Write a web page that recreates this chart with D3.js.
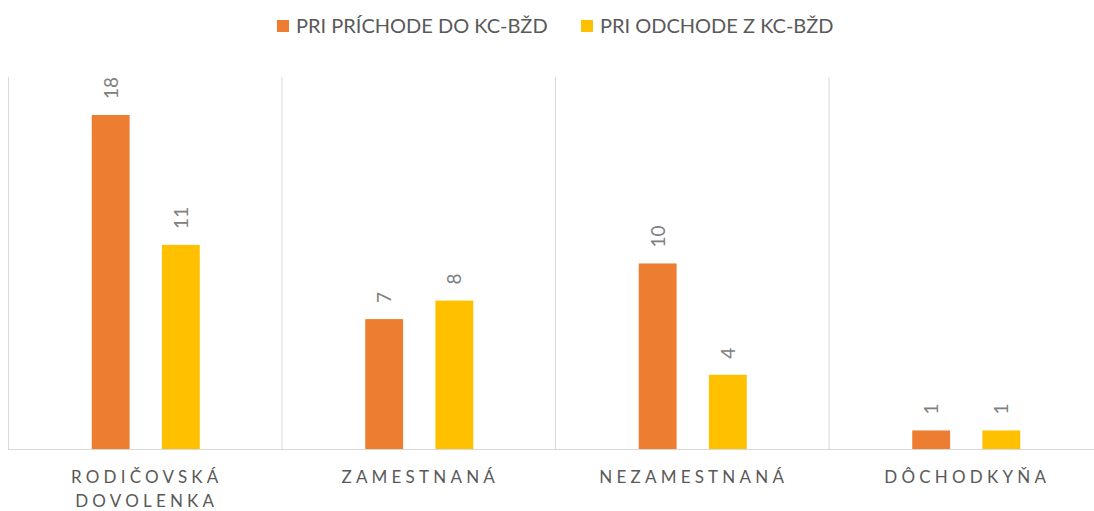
<!DOCTYPE html>
<html lang="sk">
<head>
    <meta charset="UTF-8">
    <title>Status klientok</title>
    <script src="https://d3js.org/d3.v7.min.js"></script>
    <style>
        body {
            margin: 0;
            background: #ffffff;
            font-family: Lato, "Open Sans", sans-serif;
            overflow: hidden;
        }
        .grid line { stroke: #d9d9d9; stroke-width: 1; }
        .cat-label { fill: #595959; font-size: 17px; letter-spacing: 4.2px; }
        .val-label { fill: #808080; font-size: 19px; }
        .legend text { fill: #595959; font-size: 20px; }
    </style>
</head>
<body>
    <svg id="chart" width="1094" height="511"></svg>

    <script>
        const width = 1094;
        const height = 511;

        // Data
        const categories = [["RODIČOVSKÁ", "DOVOLENKA"], ["ZAMESTNANÁ"], ["NEZAMESTNANÁ"], ["DÔCHODKYŇA"]];
        const seriesNames = ["PRI PRÍCHODE DO KC-BŽD", "PRI ODCHODE Z KC-BŽD"];
        const arrival = [18, 7, 10, 1];
        const departure = [11, 8, 4, 1];
        const colors = ["#ED7D31", "#FFC000"];

        const margin = { left: 8, right: -8, top: 77, bottom: 62 };
        const plotBottom = height - margin.bottom;

        const svg = d3.select("#chart");

        const catKeys = categories.map((c, i) => i);
        const x0 = d3.scaleBand()
            .domain(catKeys)
            .range([margin.left, width - margin.right])
            .paddingInner(0)
            .paddingOuter(0);

        const clusterW = x0.bandwidth() * 0.395;
        const x1 = d3.scaleBand()
            .domain([0, 1])
            .range([0, clusterW])
            .paddingInner(0.46);

        const y = d3.scaleLinear()
            .domain([0, 18])
            .range([plotBottom, 115]);

        // Vertical separators between categories
        const grid = svg.append("g").attr("class", "grid");
        const edges = catKeys.map(k => x0(k)).concat([x0(catKeys[catKeys.length - 1]) + x0.bandwidth()]);
        grid.selectAll("line.v")
            .data(edges)
            .enter().append("line")
            .attr("class", "v")
            .attr("x1", d => d + 0.5).attr("x2", d => d + 0.5)
            .attr("y1", margin.top).attr("y2", plotBottom);
        grid.append("line")
            .attr("x1", margin.left).attr("x2", width)
            .attr("y1", plotBottom + 0.5).attr("y2", plotBottom + 0.5);

        const rows = [];
        catKeys.forEach(i => {
            rows.push({ cat: i, s: 0, v: arrival[i] });
            rows.push({ cat: i, s: 1, v: departure[i] });
        });

        const clusterX = i => x0(i) + (x0.bandwidth() - clusterW) / 2 + 1;

        svg.append("g").selectAll("rect")
            .data(rows)
            .enter().append("rect")
            .attr("x", d => clusterX(d.cat) + x1(d.s))
            .attr("y", d => y(d.v))
            .attr("width", x1.bandwidth())
            .attr("height", d => plotBottom - y(d.v))
            .attr("fill", d => colors[d.s]);

        // Value labels (rotated)
        svg.append("g").selectAll("text")
            .data(rows)
            .enter().append("text")
            .attr("class", "val-label")
            .attr("transform", d => {
                const cx = clusterX(d.cat) + x1(d.s) + x1.bandwidth() / 2 + 7;
                return `translate(${cx},${y(d.v) - 16}) rotate(-90)`;
            })
            .attr("text-anchor", "start")
            .text(d => d.v);

        // Category labels
        const catG = svg.append("g").selectAll("text")
            .data(categories)
            .enter().append("text")
            .attr("class", "cat-label")
            .attr("text-anchor", "middle")
            .attr("x", (d, i) => x0(i) + x0.bandwidth() / 2 + 2)
            .attr("y", plotBottom + 34);
        catG.selectAll("tspan")
            .data(d => d)
            .enter().append("tspan")
            .attr("x", function() { return d3.select(this.parentNode).attr("x"); })
            .attr("dy", (d, j) => j === 0 ? 0 : 24)
            .text(d => d);

        // Legend
        const legendX = [277, 581];
        const legend = svg.append("g").attr("class", "legend");
        seriesNames.forEach((name, i) => {
            legend.append("rect")
                .attr("x", legendX[i]).attr("y", 20)
                .attr("width", 12).attr("height", 12)
                .attr("fill", colors[i]);
            legend.append("text")
                .attr("x", legendX[i] + 19).attr("y", 33)
                .text(name);
        });
    </script>
</body>
</html>
